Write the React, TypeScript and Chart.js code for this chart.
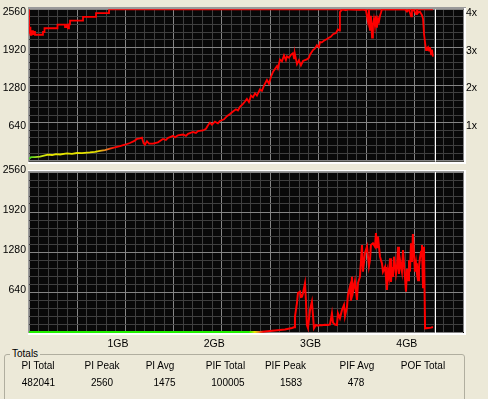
import React, { useEffect, useRef } from "react";
import { Chart, registerables } from "chart.js";

Chart.register(...registerables);

// ---------------- Data ----------------
const gbTickValues = [1, 2, 3, 4];
const piTickValues = [640, 1280, 1920, 2560];
const speedTickValues = [1, 2, 3, 4];

const xStartGB = 0.076;
const xEndGB = 4.583;
const discEndGB = 4.295;

// top chart: stepped red line (value starts at given position)
const stepLineGB = [0.076, 0.081, 0.091, 0.102, 0.117, 0.128, 0.138, 0.221, 0.237, 0.372, 0.45, 0.47, 0.481, 0.491, 0.502, 0.637, 0.772, 0.907, 1.083, 4.271];
const stepLineValue = [2560, 2160, 2250, 2130, 2190, 2140, 2176, 2130, 2176, 2240, 2300, 2260, 2300, 2240, 2304, 2368, 2432, 2496, 2560, 2560];

// top chart: rising curve
const curveGB = [
  0.076, 0.097, 0.138, 0.19, 0.232, 0.273, 0.315, 0.356, 0.398, 0.47, 0.522, 0.574, 0.626, 0.709, 0.761, 0.813, 0.865, 0.917, 0.969, 1.021,
  1.072, 1.124, 1.166, 1.197, 1.228, 1.249, 1.265, 1.28, 1.301, 1.322, 1.363, 1.415, 1.467, 1.498, 1.519, 1.571, 1.592, 1.623, 1.675, 1.706,
  1.727, 1.779, 1.81, 1.831, 1.883, 1.914, 1.935, 1.955, 1.976, 2.007, 2.038, 2.059, 2.101, 2.132, 2.163, 2.194, 2.225, 2.246, 2.267, 2.298,
  2.319, 2.339, 2.36, 2.381, 2.402, 2.423, 2.443, 2.474, 2.495, 2.516, 2.547, 2.568, 2.589, 2.609, 2.63, 2.651, 2.661, 2.682, 2.703, 2.724,
  2.744, 2.755, 2.776, 2.796, 2.817, 2.828, 2.838, 2.859, 2.879, 2.9, 2.921, 2.942, 2.962, 2.983, 2.994, 3.025, 3.046, 3.066, 3.087, 3.098,
  3.118, 3.139, 3.17, 3.191, 3.212, 3.233, 3.264, 3.284, 3.3, 3.305, 3.326, 3.336, 3.367, 3.388, 3.513, 3.544, 3.575, 3.596, 3.606, 3.617,
  3.627, 3.638, 3.648, 3.658, 3.669, 3.679, 3.689, 3.7, 3.71, 3.721, 3.731, 3.741, 3.98, 4.001, 4.022, 4.043, 4.053, 4.074, 4.095, 4.105,
  4.116, 4.136, 4.157, 4.168, 4.178, 4.189, 4.199, 4.209, 4.22, 4.23, 4.24, 4.251, 4.261, 4.271,
];
const curveValue = [
  32, 59, 59, 70, 85, 101, 96, 110, 105, 123, 115, 130, 128, 139, 150, 165, 180, 203, 225, 245,
  270, 299, 330, 368, 379, 389, 300, 272, 330, 290, 288, 310, 368, 350, 385, 421, 395, 430, 443, 420,
  455, 485, 470, 500, 512, 540, 600, 645, 610, 660, 630, 672, 700, 752, 790, 832, 870, 850, 912, 960,
  1000, 1045, 990, 1100, 1072, 1140, 1100, 1205, 1180, 1270, 1365, 1300, 1420, 1499, 1550, 1600, 1560, 1712, 1680, 1780,
  1700, 1765, 1740, 1790, 1819, 1730, 1800, 1632, 1700, 1610, 1685, 1700, 1712, 1740, 1792, 1872, 1900, 1952, 1920, 2005,
  2000, 2030, 2059, 2080, 2100, 2139, 2160, 2220, 2200, 2512, 2555, 2560, 2545, 2560, 2550, 2560, 2540, 2350, 2560, 2200,
  2450, 2080, 2300, 2400, 2272, 2450, 2250, 2400, 2350, 2450, 2500, 2560, 2560, 2520, 2560, 2440, 2560, 2540, 2480, 2560,
  2500, 2520, 2460, 2400, 2144, 2000, 1872, 1900, 1920, 1860, 1920, 1800, 1880, 1760,
];

// bottom chart: PIF
const pifGB = [
  0.076, 2.474, 2.578, 2.682, 2.734, 2.807, 2.828, 2.838, 2.859, 2.869, 2.89, 2.9, 2.911, 2.921, 2.942, 2.952, 2.962, 2.973, 2.994, 3.014,
  3.025, 3.035, 3.056, 3.077, 3.098, 3.118, 3.15, 3.181, 3.202, 3.222, 3.233, 3.253, 3.274, 3.284, 3.305, 3.326, 3.347, 3.357, 3.378, 3.388,
  3.409, 3.419, 3.43, 3.44, 3.461, 3.482, 3.492, 3.513, 3.534, 3.544, 3.565, 3.586, 3.606, 3.617, 3.627, 3.648, 3.669, 3.679, 3.689, 3.7,
  3.721, 3.731, 3.741, 3.752, 3.773, 3.783, 3.793, 3.804, 3.814, 3.825, 3.835, 3.845, 3.856, 3.866, 3.887, 3.897, 3.908, 3.918, 3.929, 3.949,
  3.96, 3.98, 3.991, 4.001, 4.012, 4.022, 4.032, 4.043, 4.053, 4.063, 4.074, 4.084, 4.095, 4.105, 4.116, 4.126, 4.136, 4.147, 4.157, 4.168,
  4.178, 4.189, 4.22, 4.251, 4.271,
];
const pifValue = [
  0, 0, 16, 32, 40, 64, 75, 245, 464, 624, 645, 560, 565, 620, 779, 500, 112, 64, 352, 485,
  272, 60, 112, 100, 112, 110, 115, 112, 120, 299, 150, 120, 112, 299, 220, 352, 432, 250, 400, 592,
  725, 500, 885, 640, 810, 512, 780, 885, 1392, 965, 1259, 1365, 1050, 1152, 1392, 1420, 1365, 1583, 1340, 1525,
  1205, 1150, 1100, 965, 1040, 880, 672, 965, 880, 1179, 800, 1040, 880, 1205, 930, 1040, 1365, 930, 1150, 965,
  1312, 880, 645, 1010, 830, 1150, 965, 1419, 1120, 1568, 1250, 965, 1100, 930, 830, 1040, 1180, 1285, 1392, 700,
  1365, 59, 64, 70, 80,
];

// totals
const totalsLabels = ["PI Total", "PI Peak", "PI Avg", "PIF Total", "PIF Peak", "PIF Avg", "POF Total"];
const totalsValues = ["482041", "2560", "1475", "100005", "1583", "478", ""];

// ---------------- Styles ----------------
const PAGE_BG = "#ECE9D8";
const PLOT_BG = "#080808";
const GRID_MINOR = "#3f3f3f";
const GRID_MAJOR = "#858585";
const FRAME_DARK = "#9a9a9a";
const FRAME_LIGHT = "#ffffff";
const RED = "#ff0000";
const FONT_FAMILY = '"Liberation Sans", Arial, Helvetica, sans-serif';
const TICK_FONT = { family: FONT_FAMILY, size: 10.5 };
const LINE_W = 1.8;
const totalsHeaderCenters = [38, 102, 160, 225.5, 285.5, 357, 423];
const totalsValueCenters = [38.5, 102, 164.5, 228, 291, 356, 423];

const topGradientStops: [number, string][] = [
  [0.076, "#3cd21e"],
  [0.16, "#a8e020"],
  [0.27, "#e6e600"],
  [0.78, "#e6e200"],
  [0.87, "#e88a28"],
  [0.97, "#ff0000"],
];
const bottomGradientStops: [number, string][] = [
  [2.36, "#22ee00"],
  [2.42, "#e6e600"],
  [2.46, "#e88a28"],
  [2.51, "#ff0000"],
];

const gradientColor = (stops: [number, string][]) => (ctx: any) => {
  const chart = ctx.chart;
  const area = chart.chartArea;
  const xs = chart.scales.x;
  if (!area || !xs) return stops[stops.length - 1][1];
  const x0 = xs.getPixelForValue(stops[0][0]);
  const x1 = xs.getPixelForValue(stops[stops.length - 1][0]);
  const g = chart.ctx.createLinearGradient(x0, 0, x1, 0);
  stops.forEach(([v, c]) => {
    const p = (xs.getPixelForValue(v) - x0) / (x1 - x0);
    g.addColorStop(Math.min(1, Math.max(0, p)), c);
  });
  return g;
};

const toPoints = (xs: number[], ys: number[]) => xs.map((x, i) => ({ x, y: ys[i] }));

const plotBackground = {
  id: "plotBackground",
  beforeDraw(chart: any) {
    const { ctx, chartArea: a } = chart;
    ctx.save();
    ctx.fillStyle = PLOT_BG;
    ctx.fillRect(a.left, a.top, a.right - a.left + 1, a.bottom - a.top + 1);
    ctx.restore();
  },
};

const discEndMarker = {
  id: "discEndMarker",
  afterDatasetsDraw(chart: any) {
    const { ctx, chartArea: a, scales } = chart;
    const px = Math.round(scales.x.getPixelForValue(discEndGB)) + 0.5;
    ctx.save();
    ctx.strokeStyle = "#ffffff";
    ctx.lineWidth = 1;
    ctx.beginPath();
    ctx.moveTo(px, a.top);
    ctx.lineTo(px, a.bottom + 1);
    ctx.stroke();
    ctx.restore();
  },
};

const makeFrame = (topRows: string[], bottomRows: number) => ({
  id: "frame",
  afterDraw(chart: any) {
    const { ctx, chartArea: a } = chart;
    const l = Math.round(a.left);
    const r = Math.round(a.right);
    const t = Math.round(a.top);
    const b = Math.round(a.bottom);
    ctx.save();
    topRows.forEach((c, i) => {
      ctx.fillStyle = c;
      ctx.fillRect(l - 1, t - topRows.length + i, r - l + 4, 1);
    });
    ctx.fillStyle = FRAME_DARK;
    ctx.fillRect(l - 1, t, 1, b - t + 1);
    ctx.fillStyle = FRAME_LIGHT;
    ctx.fillRect(r + 1, t - 1, 2, b - t + 2 + bottomRows);
    ctx.fillRect(l - 1, b + 1, r - l + 4, bottomRows);
    ctx.restore();
  },
});

const gridAxis = () => ({
  type: "linear",
  position: "bottom",
  min: 0,
  max: 45,
  ticks: { display: false, stepSize: 1, autoSkip: false },
  grid: {
    drawTicks: false,
    lineWidth: 1,
    color: (c: any) => (c.tick && Math.round(c.tick.value) % 5 === 0 ? GRID_MAJOR : GRID_MINOR),
  },
  border: { display: false },
  afterFit: (s: any) => {
    s.height = 0;
  },
});

const piAxis = (labelOffset: number) => ({
  type: "linear",
  position: "left",
  min: 0,
  max: 2560,
  ticks: {
    stepSize: 128,
    autoSkip: false,
    padding: 3,
    labelOffset,
    color: "#000000",
    font: TICK_FONT,
    callback: (v: any) => (piTickValues.includes(Number(v)) ? String(v) : ""),
  },
  grid: {
    drawTicks: false,
    lineWidth: 1,
    color: (c: any) => (c.tick && Math.round(c.tick.value) % 640 === 0 ? GRID_MAJOR : GRID_MINOR),
  },
  border: { display: false },
  afterFit: (s: any) => {
    s.width = 29;
  },
});

function topConfig(): any {
  return {
    type: "line",
    data: {
      datasets: [
        {
          data: toPoints(stepLineGB, stepLineValue),
          borderColor: RED,
          borderWidth: LINE_W,
          stepped: "after",
          pointRadius: 0,
          fill: false,
          xAxisID: "x",
          yAxisID: "y",
        },
        {
          data: toPoints(curveGB, curveValue),
          borderColor: gradientColor(topGradientStops),
          borderWidth: LINE_W,
          pointRadius: 0,
          fill: false,
          tension: 0,
          xAxisID: "x",
          yAxisID: "y",
        },
      ],
    },
    options: {
      responsive: false,
      animation: false,
      devicePixelRatio: 1,
      parsing: false,
      layout: { padding: { top: 7, bottom: 3, left: 0, right: 0 } },
      plugins: { legend: { display: false }, tooltip: { enabled: false } },
      scales: {
        x: { type: "linear", display: false, min: xStartGB, max: xEndGB },
        xg: gridAxis(),
        y: piAxis(3),
        y2: {
          type: "linear",
          position: "right",
          min: 0,
          max: 4,
          ticks: {
            stepSize: 1,
            autoSkip: false,
            padding: 3,
            labelOffset: 3.5,
            color: "#000000",
            font: TICK_FONT,
            callback: (v: any) => (speedTickValues.includes(Number(v)) ? `${v}x` : ""),
          },
          grid: { display: false, drawTicks: false },
          border: { display: false },
          afterFit: (s: any) => {
            s.width = 25;
          },
        },
      },
    },
    plugins: [plotBackground, discEndMarker, makeFrame([FRAME_DARK, FRAME_DARK], 2)],
  };
}

function bottomConfig(): any {
  return {
    type: "line",
    data: {
      datasets: [
        {
          data: toPoints(pifGB, pifValue),
          borderColor: gradientColor(bottomGradientStops),
          borderWidth: 2,
          pointRadius: 0,
          fill: false,
          tension: 0,
          clip: { left: 1, right: 1, top: 1, bottom: 1.5 },
          xAxisID: "x",
          yAxisID: "y",
        },
      ],
    },
    options: {
      responsive: false,
      animation: false,
      devicePixelRatio: 1,
      parsing: false,
      layout: { padding: { top: 12, bottom: 0, left: 0, right: 25 } },
      plugins: { legend: { display: false }, tooltip: { enabled: false } },
      scales: {
        x: {
          type: "linear",
          position: "bottom",
          min: xStartGB,
          max: xEndGB,
          afterBuildTicks: (s: any) => {
            s.ticks = gbTickValues.map((v) => ({ value: v }));
          },
          ticks: {
            autoSkip: false,
            maxRotation: 0,
            padding: 6,
            color: "#000000",
            font: TICK_FONT,
            callback: (v: any) => `${v}GB`,
          },
          grid: { display: false, drawTicks: false },
          border: { display: false },
          afterFit: (s: any) => {
            s.height = 18;
          },
        },
        xg: gridAxis(),
        y: piAxis(-2),
      },
    },
    plugins: [plotBackground, discEndMarker, makeFrame([FRAME_LIGHT, FRAME_DARK], 2)],
  };
}

export default function App() {
  const topRef = useRef<HTMLCanvasElement>(null);
  const bottomRef = useRef<HTMLCanvasElement>(null);

  useEffect(() => {
    const top = new Chart(topRef.current as HTMLCanvasElement, topConfig());
    const bottom = new Chart(bottomRef.current as HTMLCanvasElement, bottomConfig());
    return () => {
      top.destroy();
      bottom.destroy();
    };
  }, []);

  const textStyle = (center: number, top: number): React.CSSProperties => ({
    position: "absolute",
    left: center,
    top,
    transform: "translateX(-50%)",
    whiteSpace: "nowrap",
    fontSize: 10,
    lineHeight: "12px",
    color: "#000",
  });

  return (
    <div
      style={{
        position: "absolute",
        left: 0,
        top: 0,
        width: 488,
        height: 399,
        background: PAGE_BG,
        overflow: "hidden",
        fontFamily: FONT_FAMILY,
      }}
    >
      <canvas
        ref={topRef}
        width={488}
        height={170}
        style={{ position: "absolute", left: 0, top: 0, width: 488, height: 170 }}
      />
      <canvas
        ref={bottomRef}
        width={488}
        height={190}
        style={{ position: "absolute", left: 0, top: 160, width: 488, height: 190 }}
      />
      <div
        style={{
          position: "absolute",
          left: 4,
          top: 354,
          width: 459,
          height: 60,
          border: "1px solid #b0ae9f",
          borderRadius: 3,
        }}
      />
      <span
        style={{
          position: "absolute",
          left: 10,
          top: 348,
          padding: "0 2px",
          background: PAGE_BG,
          fontSize: 10,
          lineHeight: "12px",
          color: "#000",
        }}
      >
        Totals
      </span>
      {totalsLabels.map((t, i) => (
        <span key={t} style={textStyle(totalsHeaderCenters[i], 360)}>
          {t}
        </span>
      ))}
      {totalsValues.map((v, i) => (
        <span key={`v${i}`} style={textStyle(totalsValueCenters[i], 377)}>
          {v}
        </span>
      ))}
    </div>
  );
}
